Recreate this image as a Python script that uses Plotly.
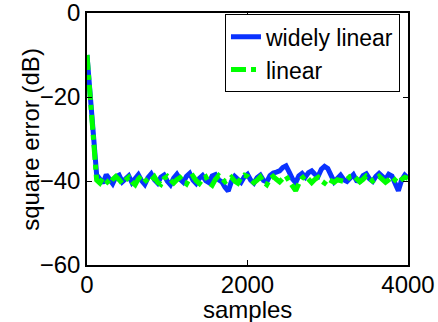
import plotly.graph_objects as go

samples = list(range(0, 4001, 40))

widely_linear = [
    -10, -19, -29, -38.5, -39.5, -40.5, -38.5, -39.8, -40.6, -39.0,
    -38.6, -40.2, -39.4, -38.8, -40.4, -39.6, -38.5, -39.9, -40.8, -39.2,
    -38.3, -39.7, -40.5, -39.1, -38.6, -40.0, -40.9, -39.3, -38.4, -39.6,
    -40.3, -38.9, -38.2, -39.8, -40.6, -39.4, -38.7, -39.9, -40.4, -38.8,
    -38.5, -39.7, -40.2, -41.5, -42.4, -40.1, -38.9, -39.6, -40.3, -39.0,
    -38.4, -39.8, -40.5, -39.2, -38.6, -39.9, -40.2, -38.7, -38.1, -37.9,
    -37.6, -36.8, -36.4, -37.9, -39.5, -40.4, -38.8, -38.2, -39.1, -38.0,
    -37.6, -38.4, -38.9, -37.2, -36.5, -37.0, -38.8, -40.2, -39.4, -38.6,
    -39.7, -40.1, -39.3, -38.5, -39.9, -40.0, -38.7, -38.3, -39.5, -40.1,
    -38.9, -38.2, -38.9, -39.6, -38.4, -38.8, -40.6, -42.3, -39.8, -38.6,
    -39.3,
]

linear = [
    -10, -20, -31, -39.8, -40.5, -39.2, -39.9, -40.8, -39.6, -38.9,
    -39.7, -40.6, -39.8, -39.1, -40.2, -40.9, -39.5, -38.7, -39.6, -40.4,
    -39.9, -39.0, -40.3, -40.8, -39.4, -38.9, -39.8, -40.5, -39.7, -39.2,
    -40.1, -40.7, -39.3, -38.8, -39.9, -40.6, -39.5, -39.0, -40.4, -41.0,
    -39.6, -38.7, -39.4, -40.2, -39.7, -39.1, -40.0, -40.5, -39.2, -38.6,
    -38.9, -39.7, -40.4, -39.8, -39.0, -40.3, -40.9, -39.5, -38.9, -39.6,
    -40.2, -39.4, -38.8, -40.1, -41.2, -42.3, -40.6, -39.3, -38.7, -39.8,
    -40.4, -39.6, -39.1, -40.0, -40.5, -39.5, -39.8, -40.3, -39.7, -39.9,
    -40.1, -39.6, -38.9, -38.7, -39.4, -40.2, -39.6, -38.8, -39.3, -40.0,
    -39.5, -38.9, -39.6, -40.3, -39.7, -39.0, -39.8, -40.4, -39.6, -39.1,
    -39.4,
]

x_ticks = [0, 2000, 4000]
y_ticks = [-60, -40, -20, 0]
x_title = "samples"
y_title = "square error (dB)"

fig = go.Figure()
fig.add_trace(go.Scatter(x=samples, y=widely_linear, mode="lines", name="widely linear",
                         line=dict(color="#0a32ff", width=5)))
fig.add_trace(go.Scatter(x=samples, y=linear, mode="lines", name="linear",
                         line=dict(color="#00ff00", width=5, dash="dashdot")))

font = "Liberation Sans, Arial, Helvetica, sans-serif"
axis_common = dict(showline=True, linecolor="black", linewidth=1.5, mirror="ticks",
                   ticks="inside", ticklen=5, tickcolor="black", showgrid=False,
                   zeroline=False, automargin=False, ticklabeloverflow="allow",
                   tickfont=dict(size=24, color="black"))

fig.update_layout(
    width=438, height=322,
    margin=dict(l=87, r=30, t=13, b=57),
    paper_bgcolor="white", plot_bgcolor="white",
    font=dict(family=font, size=24, color="black"),
    showlegend=True,
    legend=dict(x=0.975, y=0.995, xanchor="right", yanchor="top",
                bordercolor="black", borderwidth=1, bgcolor="white",
                font=dict(size=23), itemwidth=30, tracegroupgap=0),
    xaxis=dict(range=[0, 4000], tickvals=x_ticks, ticktext=[str(v) for v in x_ticks],
               ticklabelstandoff=-3, **axis_common),
    yaxis=dict(range=[-60, 0], tickvals=y_ticks, ticktext=["\u221260", "\u221240", "\u221220", "0"],
               ticklabelstandoff=0, **axis_common),
    annotations=[
        dict(text=x_title, xref="paper", yref="paper", x=0.5, y=-0.115,
             xanchor="center", yanchor="top", showarrow=False, font=dict(size=24)),
        dict(text=y_title, xref="paper", yref="paper", x=-0.178, y=0.5,
             xanchor="center", yanchor="middle", textangle=-90, showarrow=False,
             font=dict(size=24)),
    ],
)

fig.write_html("out.html", config={"displayModeBar": False},
               post_script="document.body.style.margin='0';document.body.style.padding='0';")
